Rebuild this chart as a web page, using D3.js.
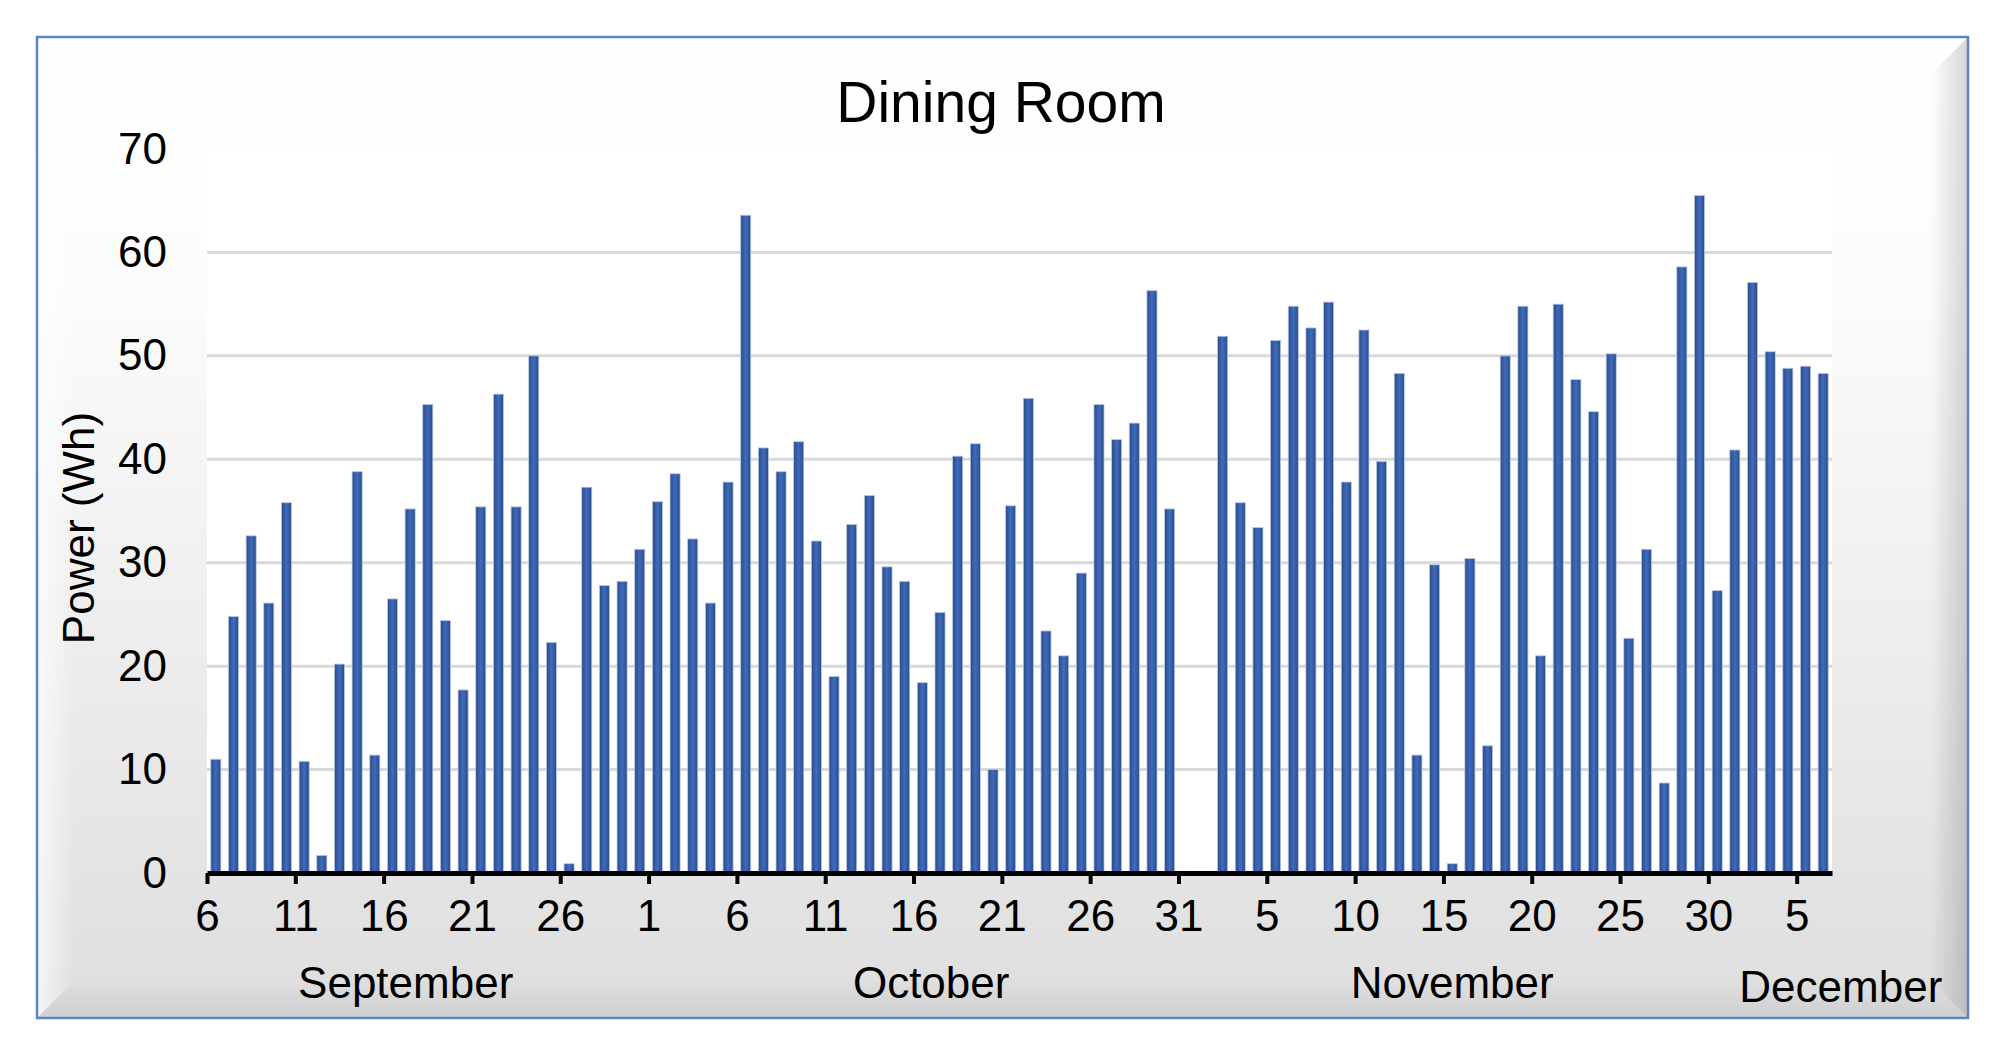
<!DOCTYPE html>
<html>
<head>
<meta charset="utf-8">
<script src="https://cdn.jsdelivr.net/npm/d3@7/dist/d3.min.js"></script>
<style>
  body { margin: 0; background: #fff; }
  svg text { font-family: "Liberation Sans", Arial, sans-serif; fill: #000; }
</style>
</head>
<body>
<div id="chart"></div>
<script>
// daily readings, Wh (null = no reading)
var sepValues = [11.0, 24.8, 32.6, 26.1, 35.8, 10.8, 1.7, 20.2, 38.8, 11.4,
                 26.5, 35.2, 45.3, 24.4, 17.7, 35.4, 46.3, 35.4, 50.0, 22.3,
                 0.9, 37.3, 27.8, 28.2, 31.3];          // Sep 6 - 30
var octValues = [35.9, 38.6, 32.3, 26.1, 37.8, 63.6, 41.1, 38.8, 41.7, 32.1,
                 19.0, 33.7, 36.5, 29.6, 28.2, 18.4, 25.2, 40.3, 41.5, 10.0,
                 35.5, 45.9, 23.4, 21.0, 29.0, 45.3, 41.9, 43.5, 56.3, 35.2, null];
var novValues = [null, 51.9, 35.8, 33.4, 51.5, 54.8, 52.7, 55.2, 37.8, 52.5,
                 39.8, 48.3, 11.4, 29.8, 0.9, 30.4, 12.3, 50.0, 54.8, 21.0,
                 55.0, 47.7, 44.6, 50.2, 22.7, 31.3, 8.7, 58.6, 65.5, 27.3];
var decValues = [40.9, 57.1, 50.4, 48.8, 49.0, 48.3];   // Dec 1 - 6

var yTicks = [0, 10, 20, 30, 40, 50, 60, 70];
var monthNames = ["September", "October", "November", "December"];
var monthLabelAt = [new Date(2019, 8, 17, 6), new Date(2019, 9, 17, 0),
                    new Date(2019, 10, 15, 12), new Date(2019, 11, 7, 12)];

var startDay = new Date(2019, 8, 6);
var endDay = new Date(2019, 11, 7);

// build the daily table
var data = [];
[[sepValues, 8, 6], [octValues, 9, 1], [novValues, 10, 1], [decValues, 11, 1]].forEach(function(m) {
  m[0].forEach(function(v, i) {
    data.push({ date: new Date(2019, m[1], m[2] + i), value: v });
  });
});

var width = 2000, height = 1057;
var plot = { left: 207, right: 1832, top: 149, bottom: 873 };

var svg = d3.select("#chart").append("svg")
    .attr("width", width)
    .attr("height", height);

var defs = svg.append("defs");

var bg = defs.append("linearGradient").attr("id", "bg")
    .attr("x1", 0).attr("y1", 0).attr("x2", 0).attr("y2", 1);
bg.append("stop").attr("offset", "0%").attr("stop-color", "#ffffff");
bg.append("stop").attr("offset", "25%").attr("stop-color", "#fcfcfc");
bg.append("stop").attr("offset", "100%").attr("stop-color", "#dedede");

var rightShade = defs.append("linearGradient").attr("id", "rightShade")
    .attr("x1", 0).attr("y1", 0).attr("x2", 1).attr("y2", 0);
rightShade.append("stop").attr("offset", "0%").attr("stop-color", "#000").attr("stop-opacity", 0);
rightShade.append("stop").attr("offset", "100%").attr("stop-color", "#000").attr("stop-opacity", 0.16);

var bottomShade = defs.append("linearGradient").attr("id", "bottomShade")
    .attr("x1", 0).attr("y1", 0).attr("x2", 0).attr("y2", 1);
bottomShade.append("stop").attr("offset", "0%").attr("stop-color", "#000").attr("stop-opacity", 0);
bottomShade.append("stop").attr("offset", "100%").attr("stop-color", "#000").attr("stop-opacity", 0.07);

var leftLight = defs.append("linearGradient").attr("id", "leftLight")
    .attr("x1", 0).attr("y1", 0).attr("x2", 1).attr("y2", 0);
leftLight.append("stop").attr("offset", "0%").attr("stop-color", "#fff").attr("stop-opacity", 0.7);
leftLight.append("stop").attr("offset", "100%").attr("stop-color", "#fff").attr("stop-opacity", 0);

var barGrad = defs.append("linearGradient").attr("id", "barGrad")
    .attr("x1", 0).attr("y1", 0).attr("x2", 1).attr("y2", 0);
barGrad.append("stop").attr("offset", "0%").attr("stop-color", "#2b4b87");
barGrad.append("stop").attr("offset", "50%").attr("stop-color", "#3f6bbd");
barGrad.append("stop").attr("offset", "100%").attr("stop-color", "#2b4b87");

// chart area with bevel
var fx0 = 37, fy0 = 37, fx1 = 1968, fy1 = 1018, bv = 38;
svg.append("rect")
    .attr("x", fx0).attr("y", fy0)
    .attr("width", fx1 - fx0).attr("height", fy1 - fy0)
    .attr("fill", "url(#bg)");

var poly = function(pts) { return "M" + pts.map(function(p) { return p.join(","); }).join("L") + "Z"; };
svg.append("path")
    .attr("d", poly([[fx0, fy0], [fx0 + bv, fy0 + bv], [fx0 + bv, fy1 - bv], [fx0, fy1]]))
    .attr("fill", "url(#leftLight)");
svg.append("path")
    .attr("d", poly([[fx0, fy1], [fx0 + bv, fy1 - bv], [fx1 - bv, fy1 - bv], [fx1, fy1]]))
    .attr("fill", "url(#bottomShade)");
svg.append("path")
    .attr("d", poly([[fx1, fy0], [fx1, fy1], [fx1 - bv, fy1 - bv], [fx1 - bv, fy0 + bv]]))
    .attr("fill", "url(#rightShade)");

svg.append("rect")
    .attr("x", fx0).attr("y", fy0)
    .attr("width", fx1 - fx0).attr("height", fy1 - fy0)
    .attr("fill", "none")
    .attr("stroke", "#5b84cc")
    .attr("stroke-width", 2.5);

// plot area
svg.append("rect")
    .attr("x", plot.left).attr("y", plot.top)
    .attr("width", plot.right - plot.left).attr("height", plot.bottom - plot.top)
    .attr("fill", "#fff");

var x = d3.scaleTime()
    .domain([startDay, endDay])
    .range([plot.left, plot.right]);

var y = d3.scaleLinear()
    .domain([0, 70])
    .range([plot.bottom, plot.top]);

// gridlines
svg.append("g")
    .selectAll("line")
    .data(yTicks.filter(function(t) { return t > 0 && t < 70; }))
  .enter().append("line")
    .attr("x1", plot.left).attr("x2", plot.right)
    .attr("y1", function(d) { return y(d); })
    .attr("y2", function(d) { return y(d); })
    .attr("stroke", "#d9d9d9")
    .attr("stroke-width", 3);

// bars
var dayW = x(new Date(2019, 8, 7)) - x(startDay);
var barW = dayW * 0.57;

svg.append("g")
    .selectAll("rect")
    .data(data.filter(function(d) { return d.value != null; }))
  .enter().append("rect")
    .attr("x", function(d) { return x(d.date) + dayW / 2 - barW / 2; })
    .attr("y", function(d) { return y(d.value); })
    .attr("width", barW)
    .attr("height", function(d) { return y(0) - y(d.value); })
    .attr("fill", "url(#barGrad)")
    .attr("stroke", "#b9c9e8")
    .attr("stroke-width", 0.8);

// x axis
var tickDates = d3.timeDay.range(startDay, endDay, 5);
var xAxis = svg.append("g")
    .attr("transform", "translate(0," + plot.bottom + ")")
    .call(d3.axisBottom(x)
      .tickValues(tickDates)
      .tickFormat(d3.timeFormat("%-d"))
      .tickSize(11)
      .tickSizeOuter(0)
      .tickPadding(16));
xAxis.select(".domain").attr("stroke", "#000").attr("stroke-width", 5);
xAxis.selectAll(".tick line").attr("stroke", "#000").attr("stroke-width", 4);
xAxis.selectAll(".tick text").attr("font-size", 44).attr("fill", "#000");

// y axis
var yAxis = svg.append("g")
    .attr("transform", "translate(" + plot.left + ",0)")
    .call(d3.axisLeft(y)
      .tickValues(yTicks)
      .tickSize(0)
      .tickPadding(40));
yAxis.select(".domain").remove();
yAxis.selectAll(".tick text").attr("font-size", 44).attr("fill", "#000");

// month labels
svg.append("g")
    .selectAll("text")
    .data(monthNames)
  .enter().append("text")
    .attr("x", function(d, i) { return x(monthLabelAt[i]); })
    .attr("y", function(d, i) { return i === 3 ? 1002 : 998; })
    .attr("text-anchor", "middle")
    .attr("font-size", 44)
    .text(function(d) { return d; });

// titles
svg.append("text")
    .attr("x", 1001)
    .attr("y", 122)
    .attr("text-anchor", "middle")
    .attr("font-size", 57)
    .text("Dining Room");

svg.append("text")
    .attr("transform", "translate(94,528) rotate(-90)")
    .attr("text-anchor", "middle")
    .attr("font-size", 44)
    .text("Power (Wh)");
</script>
</body>
</html>
